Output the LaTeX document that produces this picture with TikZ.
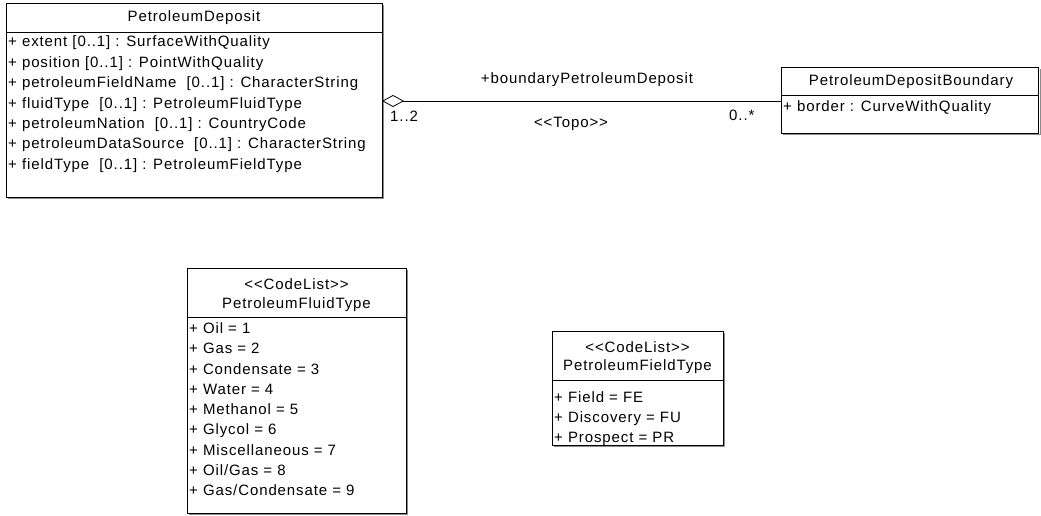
\documentclass[tikz,border=0pt]{standalone}
\usepackage{fontspec}
\setmainfont[LetterSpace=6]{Liberation Sans}
\usetikzlibrary{arrows.meta}
\tikzset{
  umlbox/.style={draw=black, line width=0.8pt, fill=white, minimum width=#1, anchor=north west, inner sep=0pt, outer sep=0pt},
  txt/.style={inner sep=0pt, font=\fontsize{15}{18}\selectfont, text height=11pt, text depth=3pt},
  row/.style={txt, anchor=west},
  shadowline/.style={draw=black!45, line width=1.2pt},
  divline/.style={draw=black, line width=0.6pt},
  assoc/.style={draw=black, line width=0.7pt},
}
\begin{document}
\begin{tikzpicture}[x=1pt,y=-1pt]
\useasboundingbox (0,0) rectangle (1041,516);

% ---------- PetroleumDeposit ----------
\draw[shadowline] (383.5,5) -- (383.5,198.5) -- (8,198.5);
\node[umlbox=376pt, minimum height=194pt] (pd) at (6,3) {};
\node[txt] (pdt) at (194,18) {PetroleumDeposit};
\draw[divline] (6,32) -- (382,32);
\foreach \t [count=\i from 0] in {
  + extent [0..1] : SurfaceWithQuality,
  + position [0..1] : PointWithQuality,
  + petroleumFieldName\ \ [0..1] : CharacterString,
  + fluidType\ \ [0..1] : PetroleumFluidType,
  + petroleumNation\ \ [0..1] : CountryCode,
  + petroleumDataSource\ \ [0..1] : CharacterString,
  + fieldType\ \ [0..1] : PetroleumFieldType}
  \node[row] (pdr\i) at (8,43+20.35*\i) {\t};

% ---------- PetroleumDepositBoundary ----------
\draw[shadowline] (1040.2,69) -- (1040.2,134.5) -- (783,134.5);
\node[umlbox=257.5pt, minimum height=66pt] (pdb) at (781,67) {};
\node[txt] (pdbt) at (911,82) {PetroleumDepositBoundary};
\draw[divline] (781,95) -- (1038.5,95);
\node[row] (pdbr) at (783,108) {+ border : CurveWithQuality};

% ---------- association ----------
\coordinate (ae) at (pd.east |- 0,101);
\coordinate (be) at (pdb.west |- 0,101);
\draw[assoc, {Diamond[open, fill=white, length=22pt, width=12pt, line width=0.8pt]}-] (ae) -- (be);
\node[txt] (rolename) at (587,80) {+boundaryPetroleumDeposit};
\node[txt] (stereo) at (571,124) {<{}<Topo>{}>};
\node[txt, anchor=west] (m1) at (390,118) {1..2};
\node[txt, anchor=west] (m2) at (729,117) {0..*};

% ---------- PetroleumFluidType ----------
\draw[shadowline] (407.5,270) -- (407.5,514) -- (189,514);
\node[umlbox=219pt, minimum height=245pt] (pft) at (187,268) {};
\node[txt] (pfts) at (296.5,285) {<{}<CodeList>{}>};
\node[txt] (pftt) at (296.5,304) {PetroleumFluidType};
\draw[divline] (187,317) -- (406,317);
\foreach \t [count=\i from 0] in {
  + Oil = 1, + Gas = 2, + Condensate = 3, + Water = 4, + Methanol = 5,
  + Glycol = 6, + Miscellaneous = 7, + Oil/Gas = 8, + Gas/Condensate = 9}
  \node[row] (pftr\i) at (189,329.5+20.25*\i) {\t};

% ---------- PetroleumFieldType ----------
\draw[shadowline] (724.5,333) -- (724.5,446.5) -- (554,446.5);
\node[umlbox=171pt, minimum height=114pt] (pfd) at (552,331) {};
\node[txt] (pfds) at (637.5,348) {<{}<CodeList>{}>};
\node[txt] (pfdt) at (637.5,366) {PetroleumFieldType};
\draw[divline] (552,380) -- (723,380);
\foreach \t [count=\i from 0] in {+ Field = FE, + Discovery = FU, + Prospect = PR}
  \node[row] (pfdr\i) at (554,398+20*\i) {\t};
\end{tikzpicture}
\end{document}
